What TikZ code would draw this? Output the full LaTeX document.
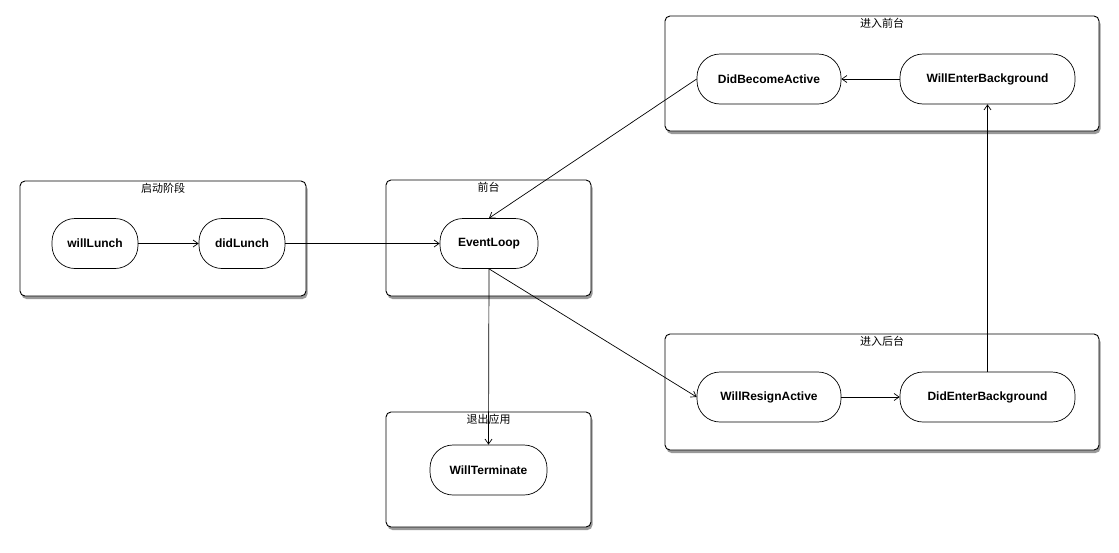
\documentclass[tikz,border=0pt]{standalone}
\usepackage{fontspec}
\setmainfont{Liberation Sans}
\newfontfamily\cjk{Noto Sans CJK SC}
\usetikzlibrary{arrows.meta,shadows,positioning}
\tikzset{
  group/.style={draw=black, line width=0.9pt, rounded corners=5pt, fill=white,
    drop shadow={shadow xshift=1.5pt, shadow yshift=-3pt, opacity=0.5, fill=black!80}, inner sep=0pt},
  grouptitle/.style={anchor=north, font=\cjk\fontsize{11}{12}\selectfont, inner sep=1pt, yshift=-1pt},
  state/.style={draw=black, line width=0.7pt, rounded corners=23pt, fill=white, inner sep=0pt,
    minimum height=50pt, font=\bfseries\fontsize{12}{14}\selectfont},
  conn/.style={draw=black, line width=0.7pt, -{Straight Barb[length=5pt,width=7pt]}}
}
\begin{document}
\begin{tikzpicture}[x=1pt,y=-1pt]
\useasboundingbox (0,0) rectangle (1119,552);
% groups
\node[group, minimum width=286pt, minimum height=115pt] (g1) at (163,238.5) {};
\node[grouptitle] (t1) at (g1.north) {启动阶段};
\node[group, minimum width=205pt, minimum height=116pt] (g2) at (488.5,238) {};
\node[grouptitle] (t2) at (g2.north) {前台};
\node[group, minimum width=434pt, minimum height=115pt] (g3) at (882,73.5) {};
\node[grouptitle] (t3) at (g3.north) {进入前台};
\node[group, minimum width=434pt, minimum height=116pt] (g4) at (882,392) {};
\node[grouptitle] (t4) at (g4.north) {进入后台};
\node[group, minimum width=205pt, minimum height=115pt] (g5) at (488.5,469.5) {};
\node[grouptitle] (t5) at (g5.north) {退出应用};
% states
\node[state, minimum width=86pt] (wl) at (95,243.5) {willLunch};
\node[state, minimum width=86pt] (dl) at (242,243.5) {didLunch};
\node[state, minimum width=98pt] (el) at (489,243.5) {EventLoop};
\node[state, minimum width=144pt] (dba) at (769,79) {DidBecomeActive};
\node[state, minimum width=175pt] (web) at (987.5,79) {WillEnterBackground};
\node[state, minimum width=144pt] (wra) at (769,397) {WillResignActive};
\node[state, minimum width=175pt] (deb) at (987.5,397) {DidEnterBackground};
\node[state, minimum width=117pt] (wt) at (488.5,470) {WillTerminate};
% connectors
\draw[conn] (wl) -- (dl);
\draw[conn] (dl) -- (el);
\draw[conn] (dba.west) -- (el.north);
\draw[conn] (el.south) -- (wra.west);
\draw[conn] (el.south) -- (wt.north);
\draw[conn] (wra) -- (deb);
\draw[conn] (deb.north) -- (web.south);
\draw[conn] (web) -- (dba);
\end{tikzpicture}
\end{document}
